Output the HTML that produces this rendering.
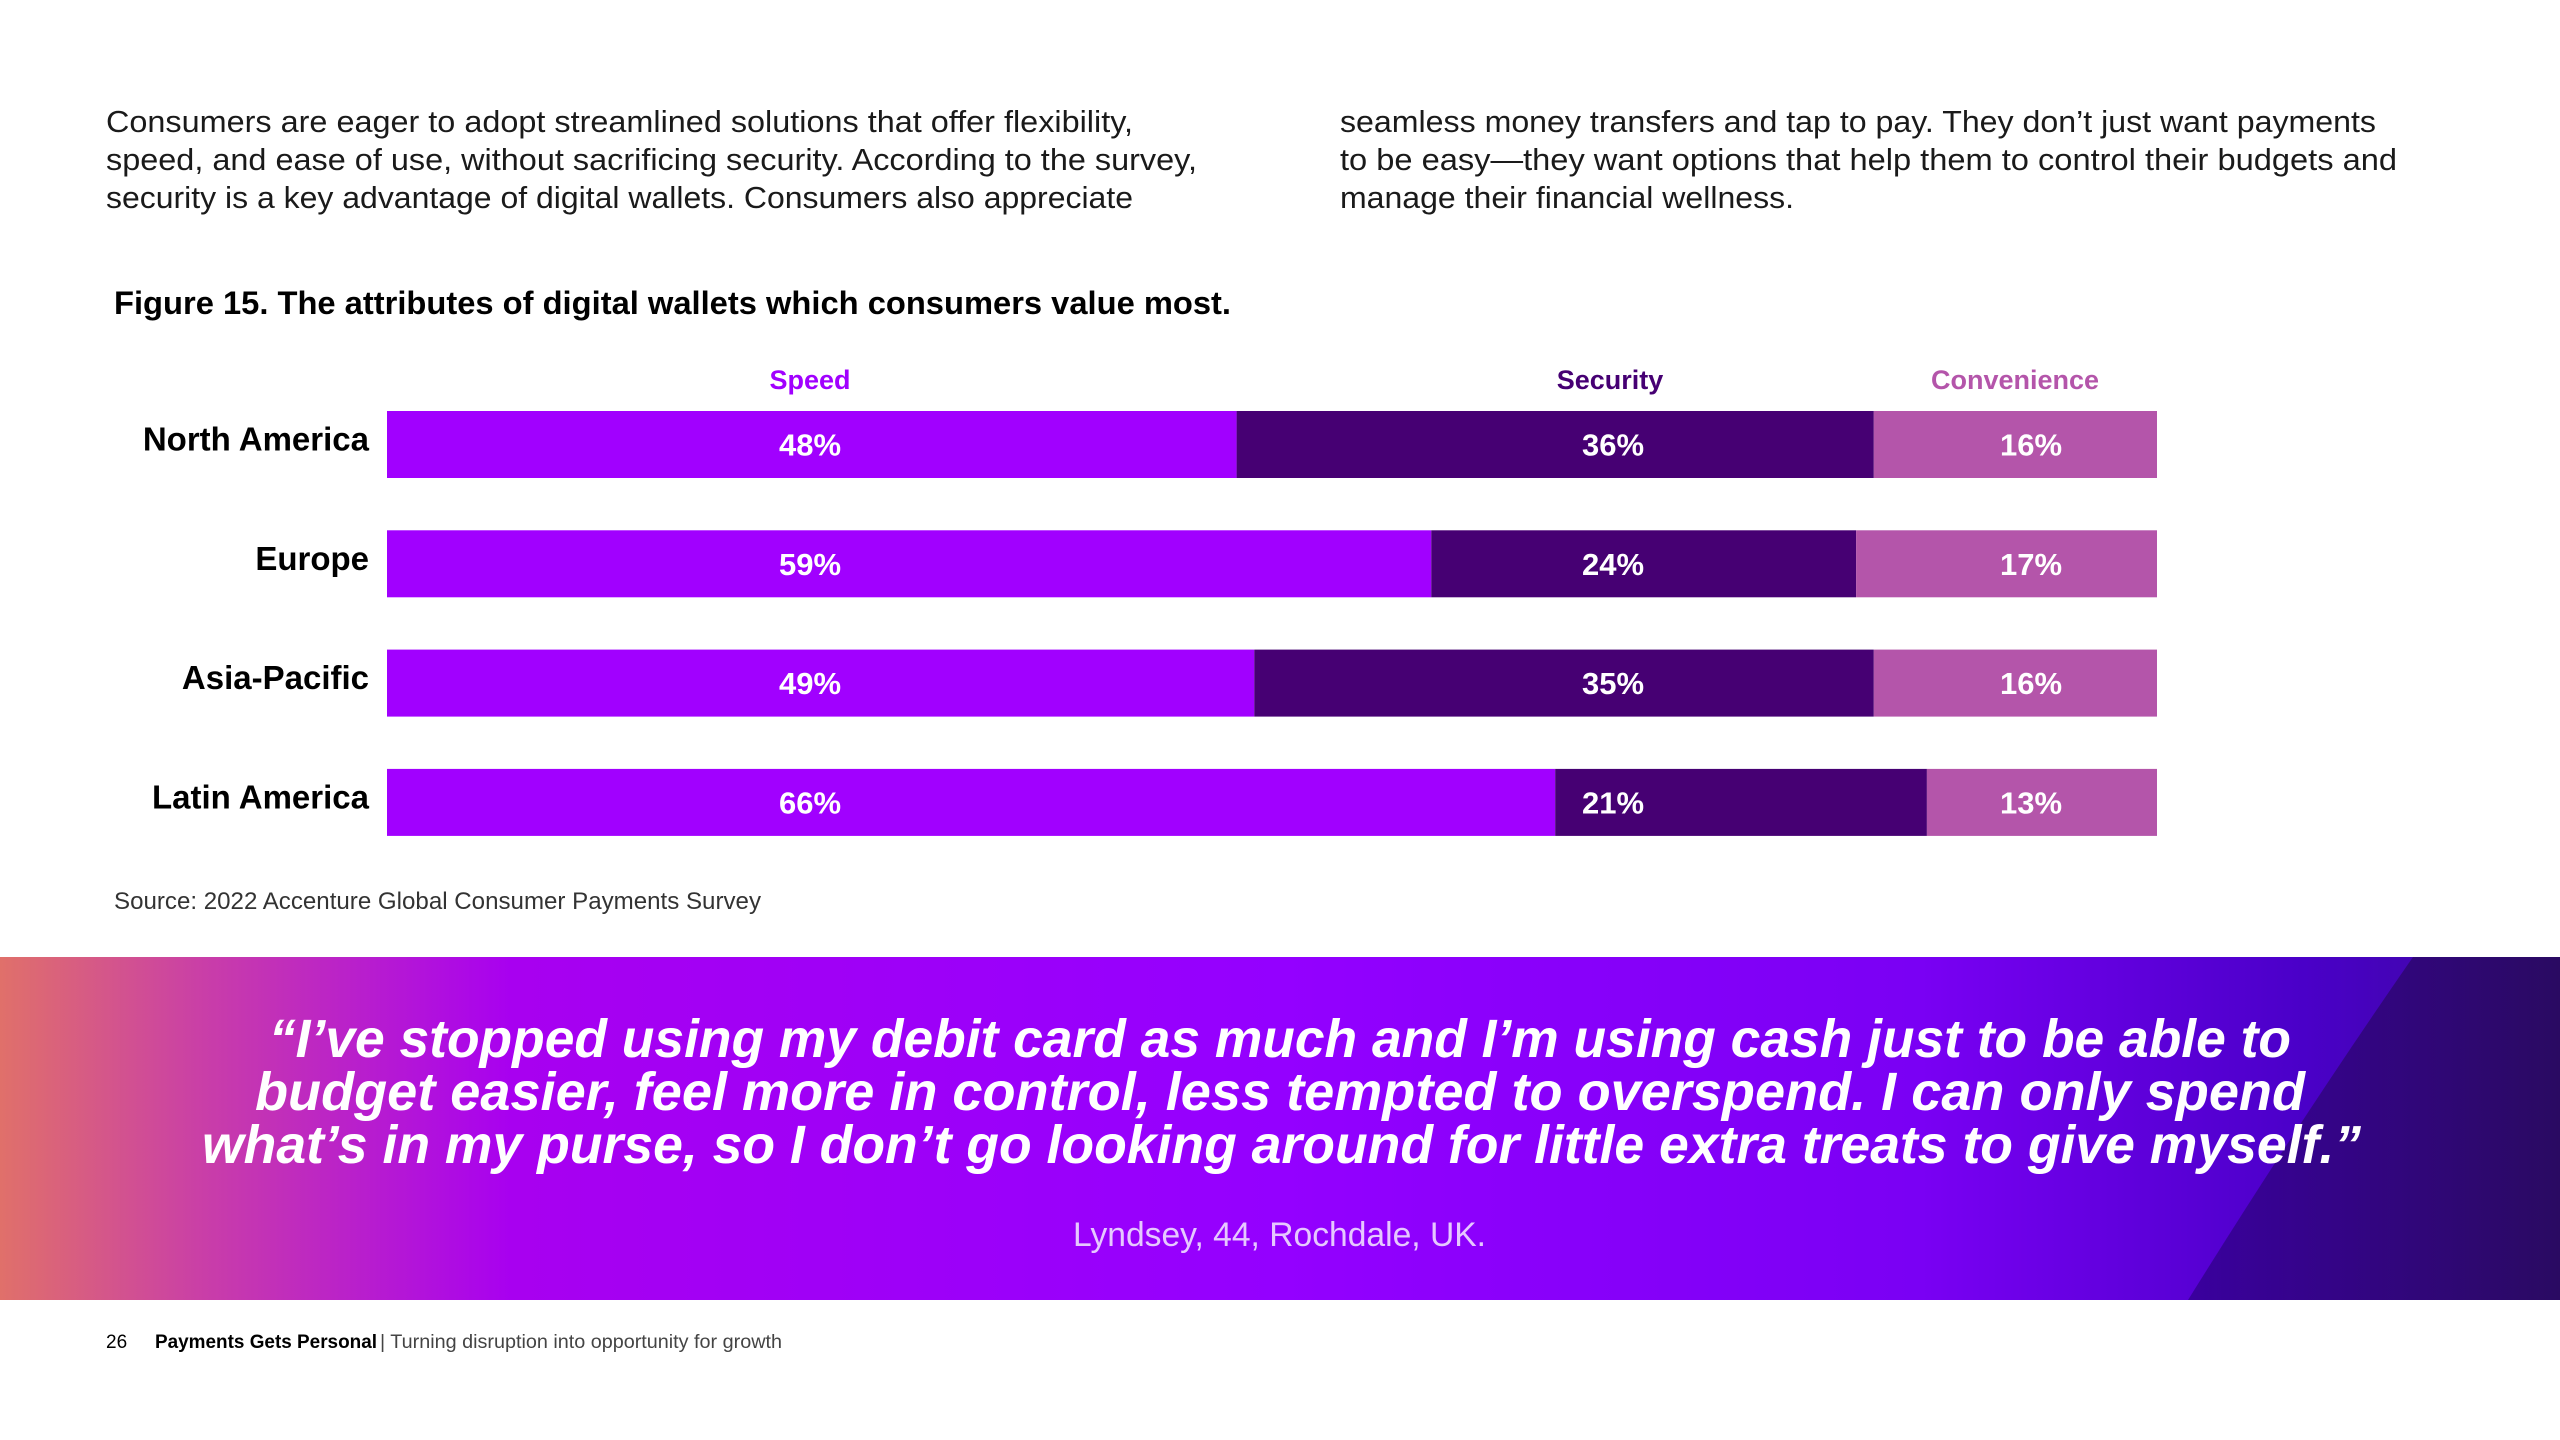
<!DOCTYPE html>
<html><head><meta charset="utf-8"><title>Figure 15</title>
<style>
html,body{margin:0;padding:0;background:#fff;}
svg{display:block;}
text{font-family:"Liberation Sans",sans-serif;}
</style></head>
<body>
<svg id="page" width="2560" height="1440" viewBox="0 0 2560 1440" xmlns="http://www.w3.org/2000/svg">
<defs>
<linearGradient id="bg" x1="0" y1="0" x2="1" y2="0">
<stop offset="0" stop-color="#e0706a"/>
<stop offset="0.08" stop-color="#c93ea8"/>
<stop offset="0.2" stop-color="#a800f0"/>
<stop offset="0.5" stop-color="#9400ff"/>
<stop offset="0.75" stop-color="#7a00f4"/>
<stop offset="0.9" stop-color="#4a00c8"/>
<stop offset="1" stop-color="#3a0a9a"/>
</linearGradient>
<linearGradient id="dk" x1="0" y1="0" x2="1" y2="0">
<stop offset="0" stop-color="#3a009e"/>
<stop offset="1" stop-color="#2a0a62"/>
</linearGradient>
</defs>
<g font-size="31" fill="#1a1a1a">
<text x="106" y="132" textLength="1027" lengthAdjust="spacingAndGlyphs">Consumers are eager to adopt streamlined solutions that offer flexibility,</text>
<text x="106" y="170" textLength="1091" lengthAdjust="spacingAndGlyphs">speed, and ease of use, without sacrificing security. According to the survey,</text>
<text x="106" y="208" textLength="1027" lengthAdjust="spacingAndGlyphs">security is a key advantage of digital wallets. Consumers also appreciate</text>
</g>
<g font-size="31" fill="#1a1a1a">
<text x="1340" y="132" textLength="1036" lengthAdjust="spacingAndGlyphs">seamless money transfers and tap to pay. They don’t just want payments</text>
<text x="1340" y="170" textLength="1057" lengthAdjust="spacingAndGlyphs">to be easy—they want options that help them to control their budgets and</text>
<text x="1340" y="208" textLength="454" lengthAdjust="spacingAndGlyphs">manage their financial wellness.</text>
</g>
<text x="114" y="314" font-size="32" font-weight="bold" fill="#000" textLength="1117" lengthAdjust="spacingAndGlyphs">Figure 15. The attributes of digital wallets which consumers value most.</text>
<g id="chart"></g>
<text x="114" y="909" font-size="24" fill="#333" textLength="647" lengthAdjust="spacingAndGlyphs">Source: 2022 Accenture Global Consumer Payments Survey</text>
<g>
<rect x="0" y="957" width="2560" height="343" fill="url(#bg)"/>
<path d="M2413 957 Q2300 1120 2188 1300 L2560 1300 L2560 957 Z" fill="url(#dk)"/>
<g font-size="54" font-weight="bold" font-style="italic" fill="#fff">
<text x="269" y="1057" textLength="2022" lengthAdjust="spacingAndGlyphs">“I’ve stopped using my debit card as much and I’m using cash just to be able to</text>
<text x="255" y="1110" textLength="2050" lengthAdjust="spacingAndGlyphs">budget easier, feel more in control, less tempted to overspend. I can only spend</text>
<text x="202" y="1163" textLength="2159" lengthAdjust="spacingAndGlyphs">what’s in my purse, so I don’t go looking around for little extra treats to give myself.”</text>
</g>
<text x="1073" y="1246" font-size="34" fill="#e6c8ff" textLength="413" lengthAdjust="spacingAndGlyphs">Lyndsey, 44, Rochdale, UK.</text>
</g>
<g font-size="19" fill="#000">
<text x="106" y="1348">26</text>
<text x="155" y="1348" font-weight="bold" textLength="222" lengthAdjust="spacingAndGlyphs">Payments Gets Personal</text>
<text x="380" y="1348" fill="#444" textLength="402" lengthAdjust="spacingAndGlyphs">| Turning disruption into opportunity for growth</text>
</g>
</svg>
<script>
const regions = ["North America","Europe","Asia-Pacific","Latin America"];
const seriesNames = ["Speed","Security","Convenience"];
const speed = [48,59,49,66];
const security = [36,24,35,21];
const convenience = [16,17,16,13];
const colors = ["#a100ff","#460073","#b455aa"];
const headerColors = ["#a100ff","#460073","#b455aa"];

const NS = "http://www.w3.org/2000/svg";
const chart = document.getElementById("chart");
const x0 = 387, x1 = 2157, barTop = 411, barH = 67, step = 119.3;
const xScale = v => x0 + (x1 - x0) * v / 100;
const yScale = i => barTop + i * step;
const labelX = [810, 1613, 2031];
const headerX = [810, 1610, 2015];
const series = [speed, security, convenience];

function mk(tag, attrs, txt) {
  const el = document.createElementNS(NS, tag);
  for (const k in attrs) el.setAttribute(k, attrs[k]);
  if (txt !== undefined) el.textContent = txt;
  chart.appendChild(el);
  return el;
}
seriesNames.forEach((n, s) => {
  const t = mk("text", {x: headerX[s], y: 389, "font-size": 27, "font-weight": "bold", fill: headerColors[s], "text-anchor": "middle"}, n);
  
  
});
regions.forEach((r, i) => {
  const y = yScale(i);
  const lab = mk("text", {x: 369, y: y + barH / 2 + 6, "font-size": 33, "font-weight": "bold", fill: "#000", "text-anchor": "end"}, r);
  
  
  let cum = 0;
  series.forEach((arr, s) => {
    const v = arr[i];
    const rect = mk("rect", {x: xScale(cum), y: y, width: xScale(cum + v) - xScale(cum), height: barH, fill: colors[s]});
    
    
    const vt = mk("text", {x: labelX[s], y: y + barH / 2 + 11, "font-size": 31, "font-weight": "bold", fill: "#fff", "text-anchor": "middle"}, v + "%");
    
    
    cum += v;
  });
});
</script>
</body></html>
